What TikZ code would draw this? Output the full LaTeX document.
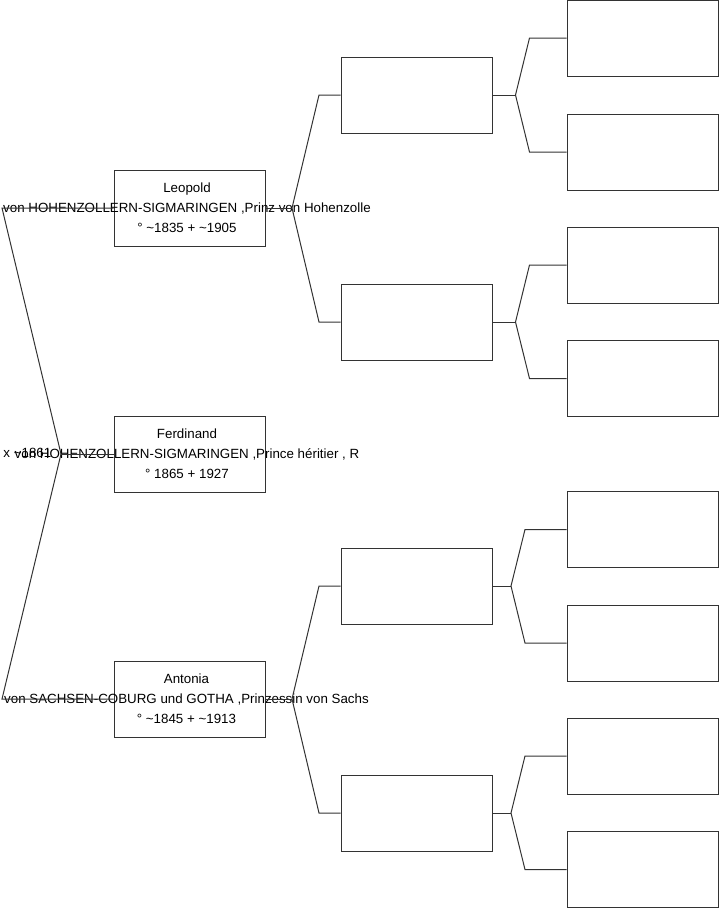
\documentclass[tikz,border=0pt]{standalone}
\usepackage{fontspec}
\setmainfont{Liberation Sans}
\begin{document}
\begin{tikzpicture}[x=0.75pt,y=-0.75pt,
  line width=0.75pt, draw=black!85,
  box/.style={draw=black!80, minimum width=113.25pt, minimum height=57pt, inner sep=0pt},
  person/.style={align=center, font=\fontsize{10pt}{15pt}\selectfont, inner sep=0pt},
  note/.style={anchor=west, font=\fontsize{10pt}{15pt}\selectfont, inner sep=0pt},
  link/.style={draw=black!80}]
\useasboundingbox (0,0) rectangle (719,908);
% column 1
\node[box] (leo) at (189.5,208) {};
\node[box] (fer) at (189.5,454) {};
\node[box] (ant) at (189.5,699) {};
% column 2
\node[box] (p1) at (416.5,95) {};
\node[box] (p2) at (416.5,322) {};
\node[box] (p3) at (416.5,586) {};
\node[box] (p4) at (416.5,813) {};
% column 3
\node[box] (g1) at (642.5,38) {};
\node[box] (g2) at (642.5,152) {};
\node[box] (g3) at (642.5,265) {};
\node[box] (g4) at (642.5,378.5) {};
\node[box] (g5) at (642.5,529.5) {};
\node[box] (g6) at (642.5,643) {};
\node[box] (g7) at (642.5,756) {};
\node[box] (g8) at (642.5,869.5) {};
% texts
\node[person] (tleo) at (187,208) {Leopold\\von HOHENZOLLERN-SIGMARINGEN ,Prinz von Hohenzolle\\° \textasciitilde 1835 + \textasciitilde 1905};
\node[person] (tfer) at (187,454) {Ferdinand\\von HOHENZOLLERN-SIGMARINGEN ,Prince héritier , R\\° 1865 + 1927};
\node[person] (tant) at (186.5,699) {Antonia\\von SACHSEN-COBURG und GOTHA ,Prinzessin von Sachs\\° \textasciitilde 1845 + \textasciitilde 1913};
\node[note] (marr) at (3,453) {x \textasciitilde 1861};
% coordinates
\coordinate (lc1) at (2,208);
\coordinate (lap) at (61,454);
\coordinate (lc2) at (2,699);
\coordinate (ra1) at (292,208);
\coordinate (rc1) at (319,95);
\coordinate (rc2) at (319,322);
\coordinate (ra2) at (292,699);
\coordinate (rc3) at (319,586);
\coordinate (rc4) at (319,813);
\coordinate (sa1) at (515.5,95);
\coordinate (sc1) at (529.5,38);
\coordinate (sc2) at (529.5,152);
\coordinate (sa2) at (515.5,322);
\coordinate (sc3) at (529.5,265);
\coordinate (sc4) at (529.5,378.5);
\coordinate (sa3) at (511,586);
\coordinate (sc5) at (525,529.5);
\coordinate (sc6) at (525,643);
\coordinate (sa4) at (511,813);
\coordinate (sc7) at (525,756);
\coordinate (sc8) at (525,869.5);
% connectors
\draw[link] (leo.west) -- (lc1) -- (lap) -- (lc2) -- (ant.west);
\draw[link] (lap) -- (fer.west);
\draw[link] (leo.east) -- (ra1);
\draw[link] (p1.west) -- (rc1) -- (ra1) -- (rc2) -- (p2.west);
\draw[link] (ant.east) -- (ra2);
\draw[link] (p3.west) -- (rc3) -- (ra2) -- (rc4) -- (p4.west);
\draw[link] (p1.east) -- (sa1);
\draw[link] (g1.west) -- (sc1) -- (sa1) -- (sc2) -- (g2.west);
\draw[link] (p2.east) -- (sa2);
\draw[link] (g3.west) -- (sc3) -- (sa2) -- (sc4) -- (g4.west);
\draw[link] (p3.east) -- (sa3);
\draw[link] (g5.west) -- (sc5) -- (sa3) -- (sc6) -- (g6.west);
\draw[link] (p4.east) -- (sa4);
\draw[link] (g7.west) -- (sc7) -- (sa4) -- (sc8) -- (g8.west);
\end{tikzpicture}
\end{document}
